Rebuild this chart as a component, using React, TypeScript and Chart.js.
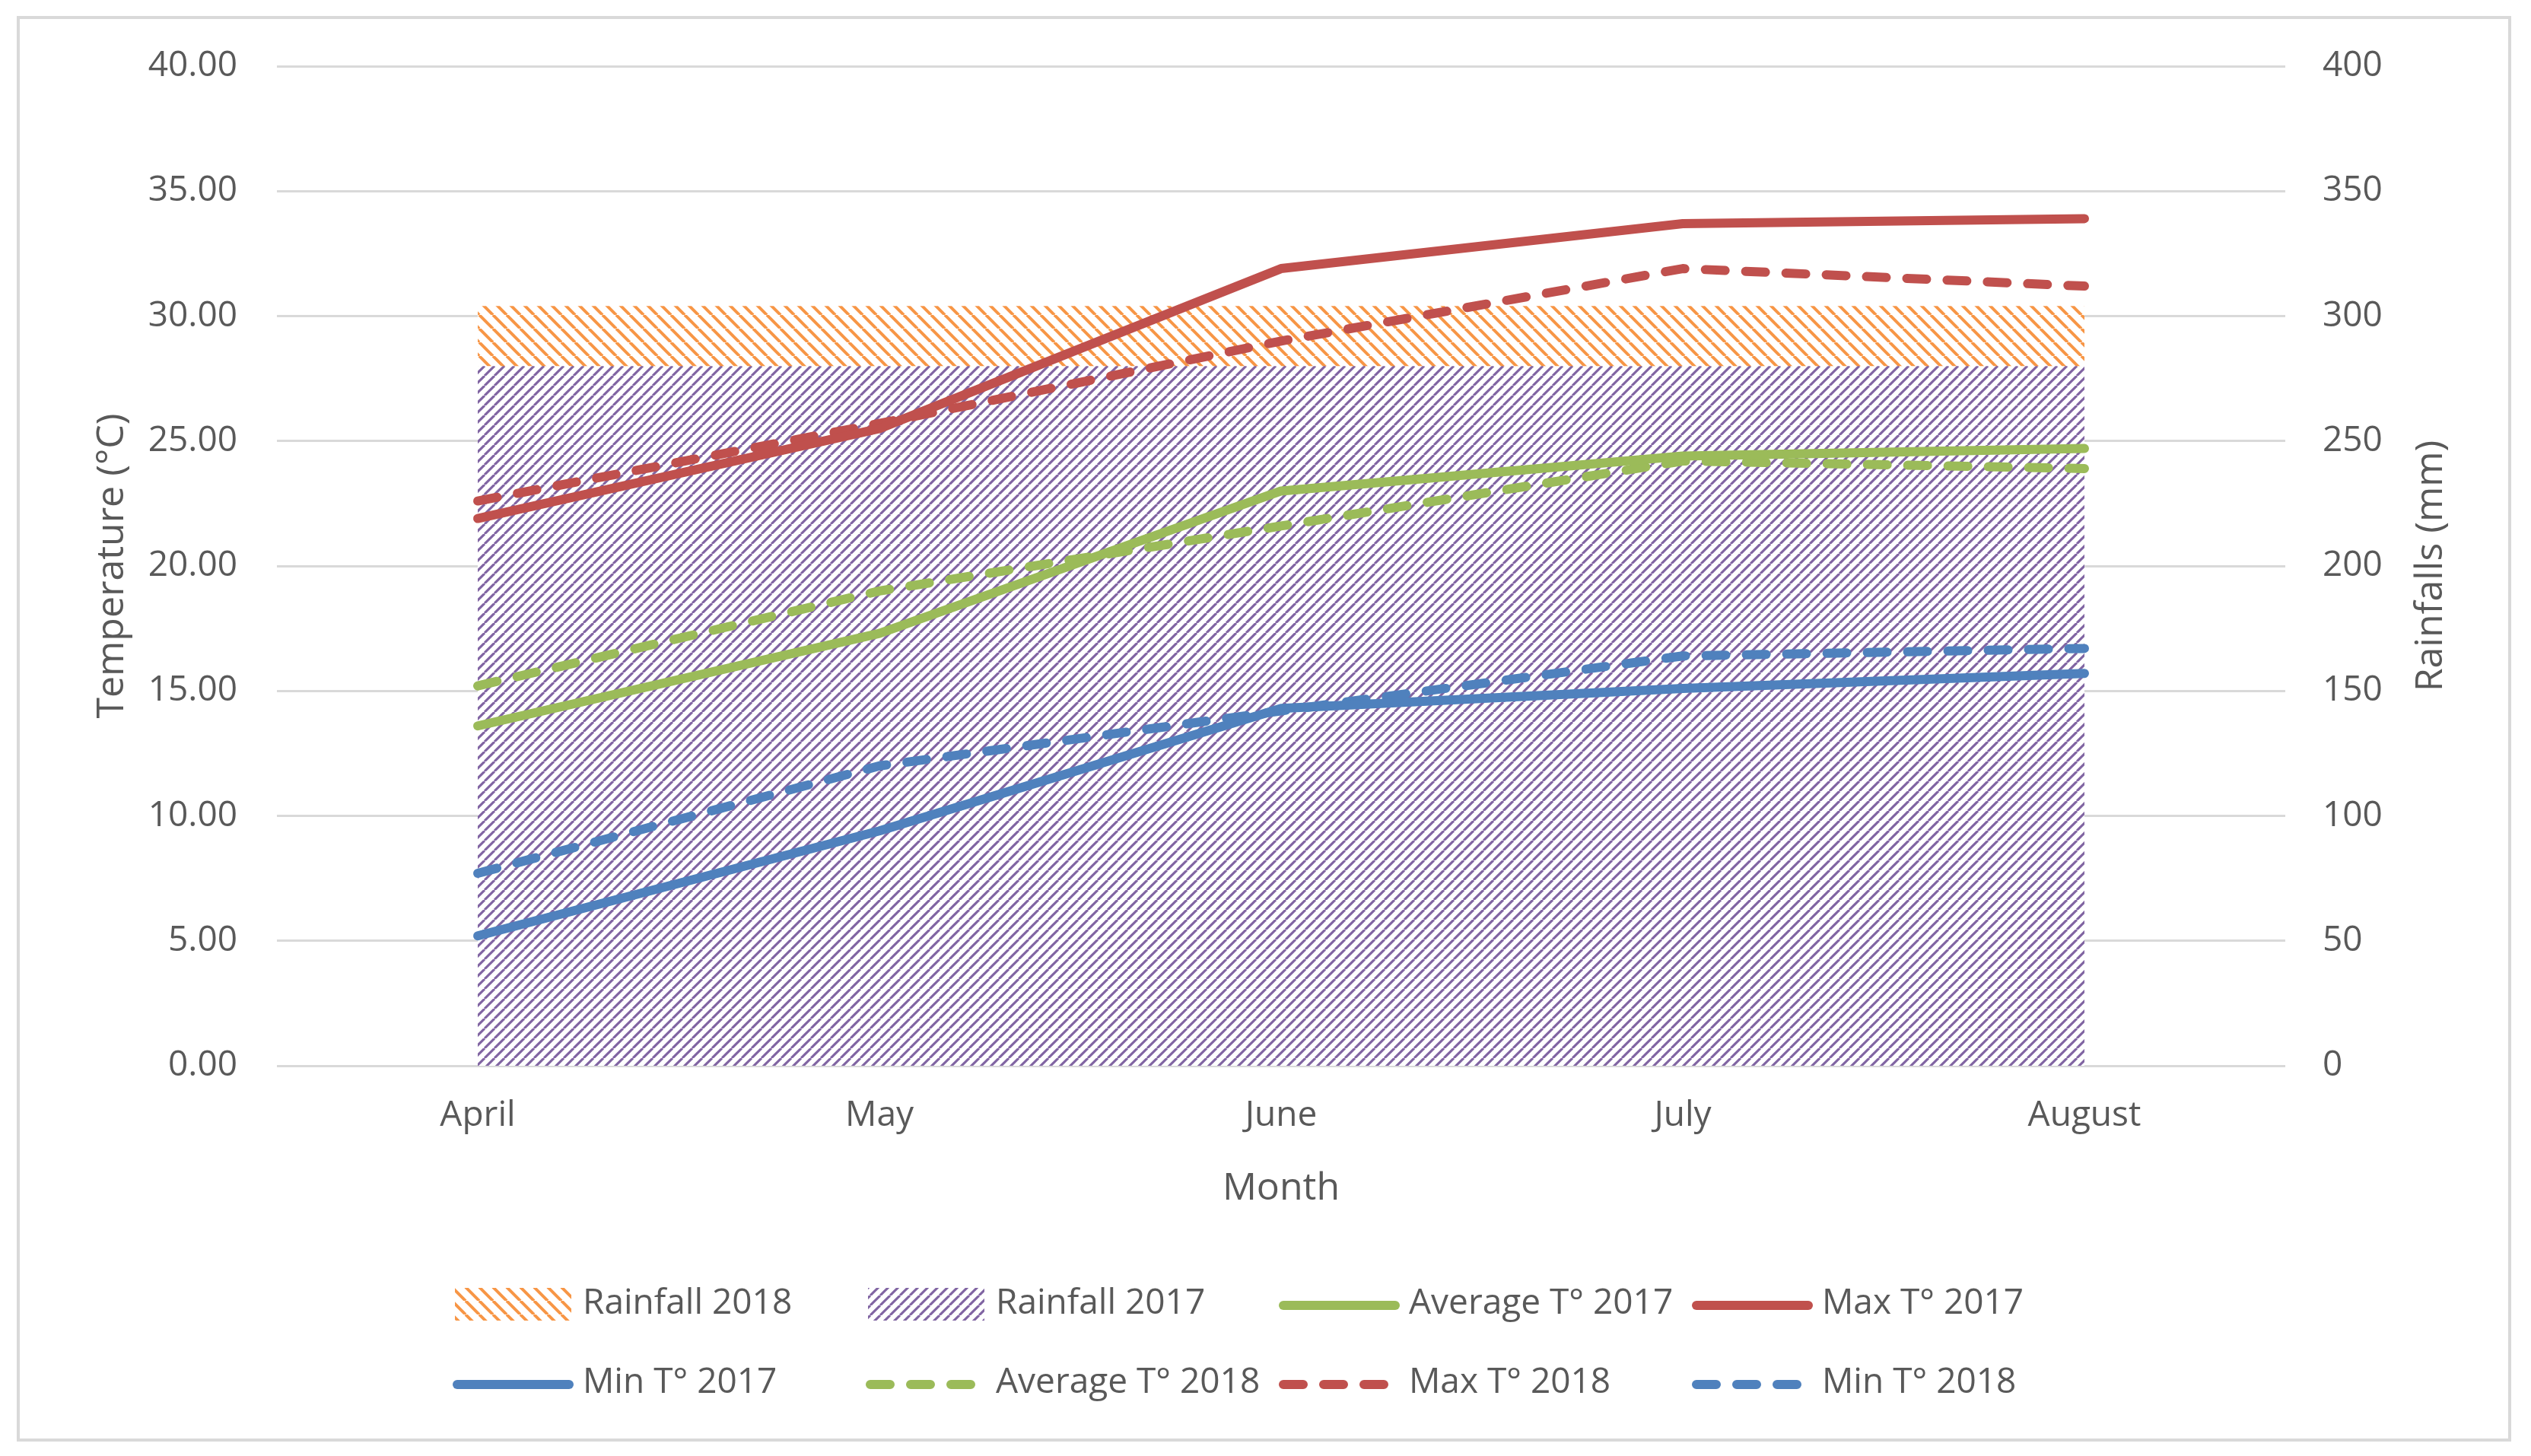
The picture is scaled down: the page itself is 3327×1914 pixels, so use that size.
import React, { useEffect, useRef } from 'react';
import { Chart, registerables } from 'chart.js';
Chart.register(...registerables);

const months = ['April', 'May', 'June', 'July', 'August'];

// rainfall (mm), right axis
const rainfall2018 = [304, 304, 304, 304, 304];
const rainfall2017 = [280, 280, 280, 280, 280];

// temperatures (°C), left axis
const avgT2017 = [13.6, 17.3, 23.0, 24.4, 24.7];
const maxT2017 = [21.9, 25.5, 31.9, 33.7, 33.9];
const minT2017 = [5.2, 9.4, 14.3, 15.1, 15.7];
const avgT2018 = [15.2, 19.0, 21.6, 24.2, 23.9];
const maxT2018 = [22.6, 25.7, 29.0, 31.9, 31.2];
const minT2018 = [7.7, 12.0, 14.2, 16.4, 16.7];

const FONT = '"Open Sans", "DejaVu Sans", sans-serif';
const TEXT = '#595959';
const GRID = '#d9d9d9';
const BLUE = '#4F81BD';
const RED = '#C0504D';
const GREEN = '#9BBB59';
const ORANGE = '#F79646';
const PURPLE = '#8064A2';
const DASH = [26, 27];

// diagonal hatch on white, like Excel pattern fills
function hatch(ctx: CanvasRenderingContext2D, color: string, size: number, width: number, down: boolean) {
  const c = document.createElement('canvas');
  c.width = size;
  c.height = size;
  const g = c.getContext('2d') as CanvasRenderingContext2D;
  g.fillStyle = '#ffffff';
  g.fillRect(0, 0, size, size);
  g.strokeStyle = color;
  g.lineWidth = width;
  for (let k = -1; k <= 1; k++) {
    g.beginPath();
    if (down) {
      g.moveTo(k * size, 0);
      g.lineTo(k * size + size, size);
    } else {
      g.moveTo(k * size, size);
      g.lineTo(k * size + size, 0);
    }
    g.stroke();
  }
  return ctx.createPattern(c, 'repeat') as CanvasPattern;
}

// Excel-like 4 x 2 grid legend plus the right axis title
const extras = {
  id: 'extras',
  afterDraw(chart: any) {
    const { ctx, chartArea } = chart;
    const xs = chart.scales.x;
    const y1 = chart.scales.y1;
    ctx.save();

    ctx.fillStyle = TEXT;
    ctx.font = `50px ${FONT}`;
    ctx.textAlign = 'center';
    ctx.textBaseline = 'middle';
    ctx.translate(y1.left + 192, (chartArea.top + chartArea.bottom) / 2);
    ctx.rotate(-Math.PI / 2);
    ctx.fillText('Rainfalls (mm)', 0, 0);
    ctx.setTransform(1, 0, 0, 1, 0, 0);

    const colW = 543;
    const cx = (chartArea.left + chartArea.right) / 2;
    const rows = [xs.bottom + 121, xs.bottom + 225];
    ctx.font = `46px ${FONT}`;
    ctx.textAlign = 'left';
    chart.data.datasets.forEach((ds: any, i: number) => {
      const x = cx - 2 * colW + (i % 4) * colW;
      const y = rows[Math.floor(i / 4)];
      if (ds.fill) {
        ctx.fillStyle = ds.backgroundColor;
        ctx.fillRect(x, y - 21, 153, 43);
      } else {
        ctx.strokeStyle = ds.borderColor;
        ctx.lineWidth = 12;
        ctx.lineCap = 'round';
        ctx.setLineDash(ds.borderDash || []);
        ctx.beginPath();
        ctx.moveTo(x + 3, y + 2);
        ctx.lineTo(x + 150, y + 2);
        ctx.stroke();
        ctx.setLineDash([]);
      }
      ctx.fillStyle = TEXT;
      ctx.fillText(ds.label, x + 168, y);
    });
    ctx.restore();
  },
};

const ClimateChart = () => {
  const chartRef = useRef(null);

  useEffect(() => {
    const canvas = chartRef.current as unknown as HTMLCanvasElement;
    const ctx = canvas.getContext('2d') as CanvasRenderingContext2D;
    const orangeHatch = hatch(ctx, ORANGE, 18, 4, true);
    const purpleHatch = hatch(ctx, PURPLE, 13, 3.1, false);

    const line = (label: string, data: number[], color: string, dashed: boolean) => ({
      type: 'line',
      label,
      data,
      yAxisID: 'y',
      borderColor: color,
      backgroundColor: color,
      borderWidth: 12,
      borderCapStyle: 'round',
      borderJoinStyle: 'round',
      borderDash: dashed ? DASH : [],
      fill: false,
      pointRadius: 0,
      tension: 0,
      order: 0,
    });

    const chart = new Chart(ctx, {
      type: 'line',
      data: {
        labels: months,
        datasets: [
          {
            label: 'Rainfall 2018',
            data: rainfall2018,
            yAxisID: 'y1',
            fill: 'origin',
            backgroundColor: orangeHatch,
            borderWidth: 0,
            pointRadius: 0,
            order: 2,
          },
          {
            label: 'Rainfall 2017',
            data: rainfall2017,
            yAxisID: 'y1',
            fill: 'origin',
            backgroundColor: purpleHatch,
            borderWidth: 0,
            pointRadius: 0,
            order: 1,
          },
          line('Average T° 2017', avgT2017, GREEN, false),
          line('Max T° 2017', maxT2017, RED, false),
          line('Min T° 2017', minT2017, BLUE, false),
          line('Average T° 2018', avgT2018, GREEN, true),
          line('Max T° 2018', maxT2018, RED, true),
          line('Min T° 2018', minT2018, BLUE, true),
        ] as any,
      },
      options: {
        responsive: true,
        maintainAspectRatio: false,
        animation: false,
        layout: { padding: { left: 90, right: 43, top: 87, bottom: 321 } },
        plugins: {
          legend: { display: false },
          tooltip: { enabled: false },
        },
        scales: {
          x: {
            offset: true,
            grid: { display: false },
            border: { display: false },
            ticks: { color: TEXT, font: { family: FONT, size: 46 }, padding: 30 },
            title: {
              display: true,
              text: 'Month',
              color: TEXT,
              font: { family: FONT, size: 50 },
              padding: 0,
            },
            afterFit: (s: any) => {
              s.height = 192;
            },
          },
          y: {
            position: 'left',
            min: 0,
            max: 40,
            ticks: {
              stepSize: 5,
              color: TEXT,
              font: { family: FONT, size: 46 },
              padding: 52,
              callback: (v: any) => Number(v).toFixed(2),
            },
            grid: { color: GRID, lineWidth: 3, drawTicks: false },
            border: { display: false },
            title: {
              display: true,
              text: 'Temperature (°C)',
              color: TEXT,
              font: { family: FONT, size: 50 },
              padding: { top: 28, bottom: 0 },
            },
            afterFit: (s: any) => {
              s.width = 274;
            },
          },
          y1: {
            position: 'right',
            min: 0,
            max: 400,
            ticks: { stepSize: 50, color: TEXT, font: { family: FONT, size: 46 }, padding: 49 },
            grid: { display: false, drawTicks: false },
            border: { display: false },
            afterFit: (s: any) => {
              s.width = 280;
            },
          },
        },
      } as any,
      plugins: [extras],
    });

    return () => {
      chart.destroy();
    };
  }, []);

  return (
    <div style={{ position: 'absolute', left: 0, top: 0, width: 3327, height: 1914, background: '#ffffff' }}>
      <canvas ref={chartRef}></canvas>
      <div
        style={{
          position: 'absolute',
          left: 22,
          top: 21,
          width: 3279,
          height: 1874,
          boxSizing: 'border-box',
          border: `4px solid ${GRID}`,
          pointerEvents: 'none',
        }}
      />
    </div>
  );
};

export default function App() {
  return <ClimateChart />;
}
